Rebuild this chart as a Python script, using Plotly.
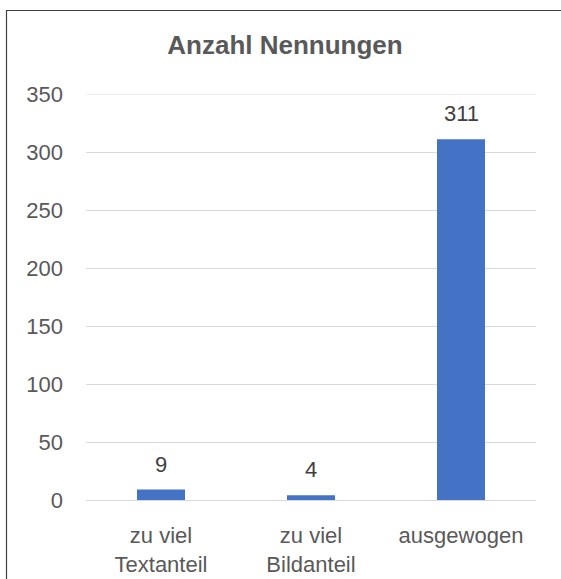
import plotly.graph_objects as go

categories = ["zu viel<br>Textanteil", "zu viel<br>Bildanteil", "ausgewogen"]
values = [9, 4, 311]
y_ticks = [0, 50, 100, 150, 200, 250, 300, 350]
title_text = "Anzahl Nennungen"

W, H = 561, 579
L, R, T, B = 86, 25, 94, 79
pw, ph = W - L - R, H - T - B
FONT = "Liberation Sans, Arial, sans-serif"

def px_x(x):
    return (x - L) / pw

def px_y(y):
    return (H - B - y) / ph

fig = go.Figure(go.Bar(
    x=categories, y=values,
    marker=dict(color="#4472C4", line=dict(width=0)),
))

for c, v in zip(categories, values):
    fig.add_annotation(x=c, y=v, text=str(v), showarrow=False, yanchor="bottom",
                       yshift=11, font=dict(family=FONT, size=22, color="#404040"))

shapes = [dict(type="line", xref="paper", yref="y", x0=0, x1=1, y0=y_ticks[-1], y1=y_ticks[-1],
               line=dict(color="#D9D9D9", width=1), layer="below")]
shapes.append(dict(type="rect", xref="paper", yref="paper",
                   x0=px_x(6.5), x1=px_x(W + 20), y0=px_y(H + 20), y1=px_y(10.5),
                   line=dict(color="#404040", width=1.2), fillcolor="rgba(0,0,0,0)", layer="above"))

fig.update_layout(
    width=W, height=H,
    margin=dict(l=L, r=R, t=T, b=B, autoexpand=False),
    paper_bgcolor="white", plot_bgcolor="white",
    bargap=0.68,
    showlegend=False,
    font=dict(family=FONT, size=22, color="#595959"),
    title=dict(text="<b>" + title_text + "</b>", x=px_x(285), xref="paper", xanchor="center",
               y=1 - 45 / H, yanchor="middle",
               font=dict(family=FONT, size=26, color="#595959")),
    xaxis=dict(showgrid=False, showline=False, ticks="", ticklabelstandoff=20, automargin=False,
               tickfont=dict(size=22, color="#595959")),
    yaxis=dict(range=[0, 350], tickvals=y_ticks, showgrid=True, gridcolor="#D9D9D9", gridwidth=1,
               zeroline=True, zerolinecolor="#D9D9D9", zerolinewidth=1, showline=False, automargin=False,
               ticks="", ticklabelstandoff=22, tickfont=dict(size=22, color="#595959")),
    shapes=shapes,
)

fig.write_html("out.html", config={"displayModeBar": False},
               post_script="document.body.style.margin='0';document.body.style.overflow='hidden';")
